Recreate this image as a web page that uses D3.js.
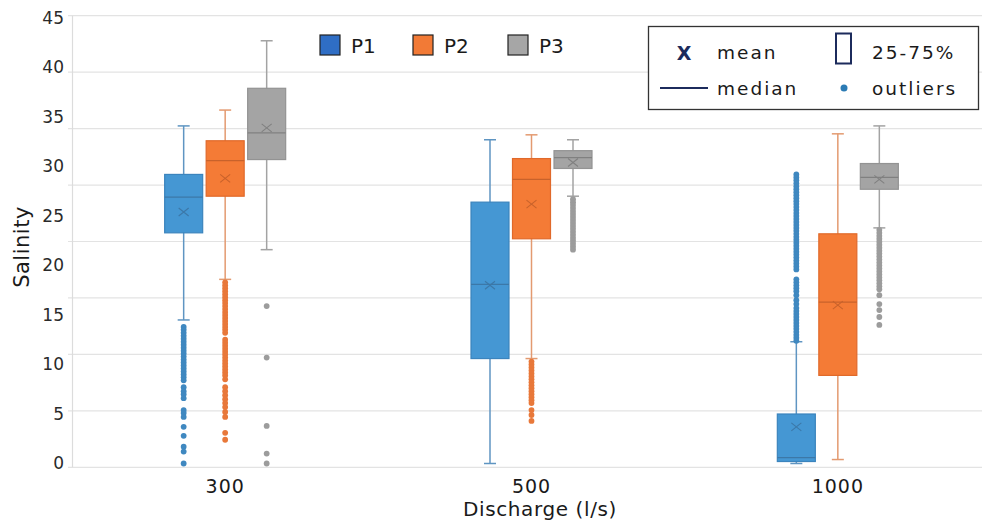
<!DOCTYPE html>
<html lang="en">
<head>
  <meta charset="UTF-8">
  <title>Salinity by discharge</title>
  <style>
    body { margin: 0; background: #fff; }
    svg { display: block; font-family: 'DejaVu Sans', sans-serif; }
  </style>
</head>
<body>
  <svg id="svg" width="982" height="523"></svg>

  <script src="https://d3js.org/d3.v7.min.js"></script>
  <script>
    const discharges = ['300', '500', '1000']
    const points = ['P1', 'P2', 'P3']
    const yTicks = [0, 5, 10, 15, 20, 25, 30, 35, 40, 45]
    // the faint grid sits on its own 0-40 spacing, not on the labels
    const gridValues = [0, 5, 10, 15, 20, 25, 30, 35, 40]

    // box stats, [point][discharge]
    const lowWhisker  = [[14.5, 0.0, 0.0], [18.6, 10.6, 0.4], [21.6, 27.0, 23.8]]
    const q1          = [[23.3, 10.6, 0.2], [27.0, 22.7, 8.9], [30.7, 29.8, 27.7]]
    const median      = [[26.9, 18.1, 0.6], [30.6, 28.7, 16.3], [33.4, 30.9, 28.9]]
    const q3          = [[29.2, 26.4, 5.0], [32.6, 30.8, 23.2], [37.9, 31.6, 30.3]]
    const highWhisker = [[34.1, 32.7, 12.3], [35.7, 33.2, 33.3], [42.7, 32.7, 34.1]]
    const mean        = [[25.4, 18.0, 3.7], [28.8, 26.2, 16.0], [33.9, 30.4, 28.7]]

    // outliers, one list per discharge
    const p1Outliers = [
      [13.8, 13.5, 13.2, 12.9, 12.6, 12.3, 12.0, 11.7, 11.4, 11.1, 10.8, 10.5, 10.2, 9.9, 9.6, 9.3, 9.0, 8.7, 8.4,
       7.7, 7.3, 7.0, 6.6, 5.4, 5.1, 4.7, 3.7, 2.8, 1.7, 1.2, 0.0],
      [],
      [29.2, 28.9, 28.6, 28.3, 28.0, 27.7, 27.4, 27.1, 26.8, 26.5, 26.2, 25.9, 25.6, 25.3, 25.0, 24.7, 24.4, 24.1,
       23.8, 23.5, 23.2, 22.9, 22.6, 22.3, 22.0, 21.7, 21.4, 21.1, 20.8, 20.5, 20.2, 19.9, 19.6,
       18.6, 18.3, 18.0, 17.7, 17.4, 17.0, 16.5, 16.1, 15.7, 15.4, 15.1, 14.8, 14.5, 14.2, 13.9, 13.6, 13.3, 13.0, 12.7, 12.4]
    ]
    const p2Outliers = [
      [18.3, 18.0, 17.7, 17.4, 17.1, 16.8, 16.5, 16.2, 15.9, 15.6, 15.3, 15.0, 14.7, 14.4, 14.1, 13.8, 13.5, 13.2,
       12.5, 12.2, 11.9, 11.6, 11.3, 11.0, 10.7, 10.4, 10.1, 9.8, 9.5, 9.2, 8.9, 8.5,
       7.7, 7.3, 6.9, 6.5, 6.1, 5.7, 5.2, 4.7, 3.1, 2.4],
      [10.3, 10.0, 9.7, 9.4, 9.1, 8.8, 8.5, 8.2, 7.9, 7.6, 7.3, 7.0, 6.7, 6.4, 6.1, 5.4, 4.9, 4.3],
      []
    ]
    const p3Outliers = [
      [15.9, 10.7, 3.8, 1.0, 0.0],
      [26.7, 26.4, 26.1, 25.8, 25.5, 25.2, 24.9, 24.6, 24.3, 24.0, 23.7, 23.4, 23.1, 22.8, 22.5, 22.2, 21.9, 21.6],
      [23.6, 23.3, 23.0, 22.7, 22.4, 22.1, 21.8, 21.5, 21.2, 20.9, 20.6, 20.3, 20.0, 19.7, 19.4, 19.1, 18.8, 18.5,
       18.2, 17.9, 17.6, 17.0, 16.1, 15.5, 14.8, 14.0]
    ]

    const fills    = ['#4597d3', '#f47b36', '#a4a4a4']
    const strokes  = ['#3b84bd', '#e0692a', '#939393']
    const dots     = ['#3f88c0', '#e8783a', '#9c9c9c']
    const whiskers = ['#5f95c2', '#e39a70', '#a3a3a3']
    const marks    = ['#3c78a8', '#c8622b', '#808080']
    const legendFills = ['#2f6ec5', '#f27a36', '#a6a6a6']

    const rows = []
    points.forEach((p, i) => {
      const outs = [p1Outliers, p2Outliers, p3Outliers][i]
      discharges.forEach((d, j) => {
        rows.push({
          point: p, idx: i, discharge: d,
          lo: lowWhisker[i][j], q1: q1[i][j], med: median[i][j],
          q3: q3[i][j], hi: highWhisker[i][j], mean: mean[i][j],
          outliers: outs[j]
        })
      })
    })

    const svg = d3.select('#svg')

    const x0 = d3.scaleBand().domain(discharges).range([72, 991])
    const xIn = d3.scalePoint().domain(points).range([-41.5, 41.5])
    const y = d3.scaleLinear().domain([0, 45]).range([463.5, 18])
    const yGrid = d3.scaleLinear().domain([0, 40]).range([467.3, 15.7])
    const boxW = 38
    const cx = d => x0(d.discharge) + x0.bandwidth() / 2 + xIn(d.point)

    // grid
    svg.append('g')
      .selectAll('line')
      .data(gridValues)
      .enter()
      .append('line')
      .attr('x1', 68).attr('x2', 982)
      .attr('y1', d => yGrid(d)).attr('y2', d => yGrid(d))
      .attr('stroke', '#e3e3e3')
      .attr('stroke-width', 1.2)

    svg.append('line')
      .attr('x1', 72.5).attr('x2', 72.5)
      .attr('y1', yGrid(40)).attr('y2', yGrid(0))
      .attr('stroke', '#dcdcdc')
      .attr('stroke-width', 1.2)

    // y axis labels
    const yAxis = svg.append('g')
      .attr('transform', 'translate(72,0)')
      .call(d3.axisLeft(y).tickValues(yTicks).tickSize(0).tickPadding(8))
    yAxis.select('.domain').remove()
    yAxis.selectAll('text')
      .attr('fill', '#2a2a2a')
      .style('font-size', '17px')
      .style('font-family', 'DejaVu Sans')

    // x axis labels
    const xAxis = svg.append('g')
      .attr('transform', 'translate(0,467.3)')
      .call(d3.axisBottom(x0).tickSize(0).tickPadding(12))
    xAxis.select('.domain').remove()
    xAxis.selectAll('text')
      .attr('fill', '#1a1a1a')
      .style('font-size', '19px')
      .style('letter-spacing', '1px')
      .style('font-family', 'DejaVu Sans')

    svg.append('text')
      .attr('x', 540).attr('y', 516)
      .attr('text-anchor', 'middle')
      .attr('fill', '#1a1a1a')
      .style('font-size', '20px')
      .style('letter-spacing', '0.6px')
      .text('Discharge (l/s)')

    svg.append('text')
      .attr('transform', 'translate(29,247) rotate(-90)')
      .attr('text-anchor', 'middle')
      .attr('fill', '#1a1a1a')
      .style('font-size', '21px')
      .style('letter-spacing', '0.5px')
      .text('Salinity')

    // boxes
    const g = svg.append('g')
      .selectAll('g')
      .data(rows)
      .enter()
      .append('g')

    g.append('line')
      .attr('x1', cx).attr('x2', cx)
      .attr('y1', d => y(d.hi)).attr('y2', d => y(d.lo))
      .attr('stroke', d => whiskers[d.idx])
      .attr('stroke-width', 1.5)

    g.selectAll('line.cap')
      .data(d => [d, d].map((r, k) => ({ r, v: k ? r.lo : r.hi })))
      .enter()
      .append('line')
      .attr('class', 'cap')
      .attr('x1', d => cx(d.r) - 6).attr('x2', d => cx(d.r) + 6)
      .attr('y1', d => y(d.v)).attr('y2', d => y(d.v))
      .attr('stroke', d => whiskers[d.r.idx])
      .attr('stroke-width', 1.5)

    g.append('rect')
      .attr('x', d => cx(d) - boxW / 2)
      .attr('width', boxW)
      .attr('y', d => y(d.q3))
      .attr('height', d => y(d.q1) - y(d.q3))
      .attr('fill', d => fills[d.idx])
      .attr('stroke', d => strokes[d.idx])
      .attr('stroke-width', 1.2)

    g.append('line')
      .attr('x1', d => cx(d) - boxW / 2).attr('x2', d => cx(d) + boxW / 2)
      .attr('y1', d => y(d.med)).attr('y2', d => y(d.med))
      .attr('stroke', d => marks[d.idx])
      .attr('stroke-width', 1.2)

    g.append('path')
      .attr('d', d => {
        const x = cx(d), yy = y(d.mean)
        return `M${x - 5},${yy - 4}L${x + 5},${yy + 4}M${x - 5},${yy + 4}L${x + 5},${yy - 4}`
      })
      .attr('stroke', d => marks[d.idx])
      .attr('stroke-width', 1.1)
      .attr('fill', 'none')

    g.selectAll('circle')
      .data(d => d.outliers.map(v => ({ r: d, v })))
      .enter()
      .append('circle')
      .attr('cx', d => cx(d.r))
      .attr('cy', d => y(d.v))
      .attr('r', 2.9)
      .attr('fill', d => dots[d.r.idx])

    // series legend
    const leg = svg.append('g')
      .selectAll('g')
      .data(points)
      .enter()
      .append('g')
      .attr('transform', (d, i) => `translate(${[320, 413, 508][i]},35)`)
    leg.append('rect')
      .attr('width', 20).attr('height', 20)
      .attr('fill', (d, i) => legendFills[i])
      .attr('stroke', '#222')
      .attr('stroke-width', 1.2)
    leg.append('text')
      .attr('x', 31).attr('y', 18)
      .attr('fill', '#1a1a1a')
      .style('font-size', '20px')
      .text(d => d)

    // symbol legend
    const key = svg.append('g')
    const navy = '#1c2b5c'
    key.append('rect')
      .attr('x', 648.5).attr('y', 26.5)
      .attr('width', 330).attr('height', 83)
      .attr('fill', '#fff')
      .attr('stroke', '#333')
      .attr('stroke-width', 1.3)
    key.append('text')
      .attr('x', 684).attr('y', 60)
      .attr('text-anchor', 'middle')
      .attr('fill', navy)
      .style('font-size', '19px')
      .style('font-weight', 'bold')
      .text('X')
    key.append('rect')
      .attr('x', 836).attr('y', 33.5)
      .attr('width', 15).attr('height', 30)
      .attr('fill', 'none')
      .attr('stroke', navy)
      .attr('stroke-width', 2)
    key.append('line')
      .attr('x1', 660).attr('x2', 708)
      .attr('y1', 88).attr('y2', 88)
      .attr('stroke', navy)
      .attr('stroke-width', 2)
    key.append('circle')
      .attr('cx', 844).attr('cy', 88).attr('r', 3.5)
      .attr('fill', '#2b7bb4')
    key.selectAll('text.lbl')
      .data([['mean', 717, 59], ['25-75%', 872, 59], ['median', 717, 95], ['outliers', 872, 95]])
      .enter()
      .append('text')
      .attr('class', 'lbl')
      .attr('x', d => d[1]).attr('y', d => d[2])
      .attr('fill', '#1a1a1a')
      .style('font-size', '18.5px')
      .style('letter-spacing', '2px')
      .text(d => d[0])
  </script>
</body>
</html>
